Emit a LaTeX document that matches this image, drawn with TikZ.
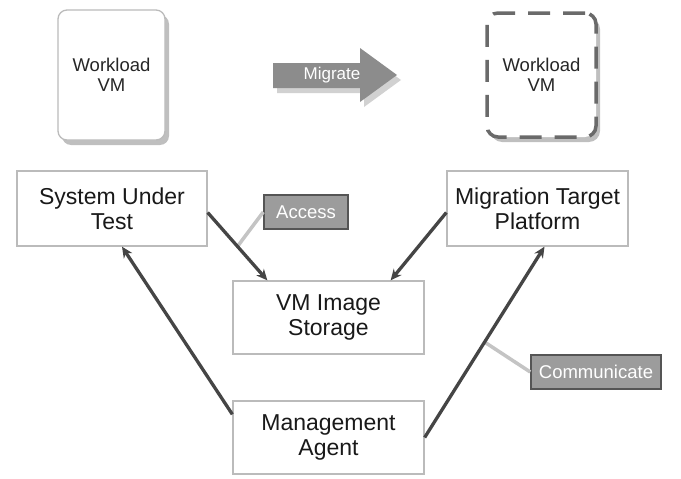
\documentclass[tikz,border=0pt]{standalone}
\usepackage{fontspec}
\setmainfont{Liberation Sans}
\usetikzlibrary{arrows.meta,shadows}
\definecolor{boxline}{HTML}{BBBBBB}
\definecolor{arrowdark}{HTML}{454545}
\definecolor{labelfill}{HTML}{9C9C9C}
\definecolor{labelline}{HTML}{555555}
\definecolor{leader}{HTML}{C4C4C4}
\definecolor{migfill}{HTML}{8C8C8C}
\definecolor{dashgray}{HTML}{6A6A6A}
\tikzset{
  vmbox/.style={draw=boxline, line width=1.3pt, fill=white, rounded corners=9pt,
    align=center, font=\fontsize{18.5}{20}\selectfont, text=black!85,
    drop shadow={shadow xshift=4pt, shadow yshift=-5pt, opacity=0.25, fill=black}},
  vmdash/.style={draw=dashgray, line width=3.5pt, dash pattern=on 22pt off 13pt, fill=white,
    rounded corners=11pt, align=center, font=\fontsize{18.5}{20}\selectfont, text=black!85,
    drop shadow={shadow xshift=4pt, shadow yshift=-5pt, opacity=0.25, fill=black}},
  compbox/.style={draw=boxline, line width=1.3pt, fill=white, align=center,
    font=\fontsize{23}{25}\selectfont, text=black!90},
  tagbox/.style={draw=labelline, line width=1.5pt, fill=labelfill, text=white,
    font=\fontsize{18.5}{20}\selectfont, inner sep=0pt},
  flow/.style={draw=arrowdark, line width=3.3pt, -{Stealth[length=11pt,width=10pt]}},
  leadline/.style={draw=leader, line width=3.5pt},
}
\begin{document}
\begin{tikzpicture}[x=1pt,y=-1pt]
\useasboundingbox (0,0) rectangle (681,479);
\fill[white] (0,0) rectangle (681,479);

% workload VMs
\node[vmbox, minimum width=107pt, minimum height=130pt] (wl1) at (111.5,75) {Workload\\VM};
\node[vmdash, minimum width=109pt, minimum height=124pt] (wl2) at (541.5,75) {Workload\\VM};

% migrate arrow
\fill[black, opacity=0.18] (277,68) -- (364,68) -- (364,53) -- (401,80) -- (364,107) -- (364,93) -- (277,93) -- cycle;
\fill[migfill] (273,63) -- (360,63) -- (360,48) -- (397,75) -- (360,102) -- (360,88) -- (273,88) -- cycle;
\node[text=white, font=\fontsize{17}{19}\selectfont] (migrate) at (332,75) {Migrate};

% components
\node[compbox, minimum width=190pt, minimum height=75pt] (sut) at (112,208.5) {System Under\\Test};
\node[compbox, minimum width=181pt, minimum height=75pt] (mtp) at (537.5,208.5) {Migration Target\\Platform};
\node[compbox, minimum width=191pt, minimum height=73pt] (vmis) at (328.5,317.5) {VM Image\\Storage};
\node[compbox, minimum width=191pt, minimum height=73pt] (ma) at (328.5,437.5) {Management\\Agent};

% labels
\node[tagbox, minimum width=84pt, minimum height=34pt] (access) at (306,212) {Access};
\node[tagbox, minimum width=130pt, minimum height=34pt] (comm) at (596,372) {Communicate};

% arrows
\path ([yshift=-4pt]sut.east) -- ([xshift=35pt]vmis.north west) coordinate[pos=0.5] (accp);
\path (ma.east) -- ([xshift=7pt]mtp.south) coordinate[pos=0.5] (commp);
\draw[leadline] (access.west) -- (accp);
\draw[leadline] (comm.west) -- (commp);
\draw[flow] ([yshift=-4pt]sut.east) -- ([xshift=35pt]vmis.north west);
\draw[flow] ([yshift=-4pt]mtp.west) -- ([xshift=-34pt]vmis.north east);
\draw[flow] ([yshift=-14pt]ma.north west) -- ([xshift=10pt]sut.south);
\draw[flow] (ma.east) -- ([xshift=7pt]mtp.south);
\end{tikzpicture}
\end{document}
